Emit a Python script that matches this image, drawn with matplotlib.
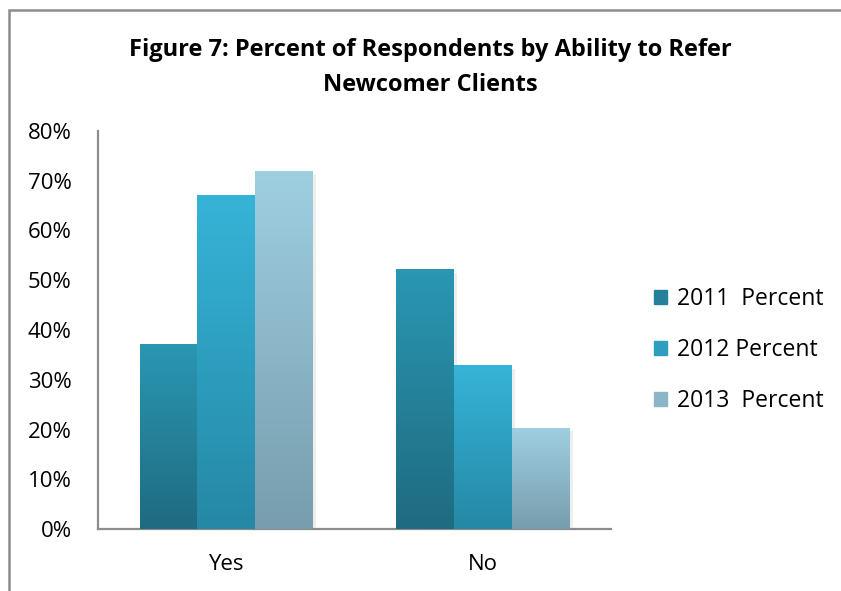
import numpy as np
import matplotlib
matplotlib.use('Agg')
from matplotlib import pyplot as plt
from matplotlib.colors import LinearSegmentedColormap
from matplotlib.patches import Rectangle
import matplotlib.patheffects as pe

categories = ['Yes', 'No']
series_names = ['2011  Percent', '2012 Percent', '2013  Percent']
pct_2011 = [37.0, 52.1]
pct_2012 = [67.1, 32.8]
pct_2013 = [71.8, 20.3]
y_ticks = [0, 10, 20, 30, 40, 50, 60, 70, 80]

# (bottom, top) colours for each series gradient
shades = [('#1f6b80', '#2a97b3'),
          ('#2588a5', '#36b4d8'),
          ('#779dae', '#9ecfe1')]

plt.rcParams['font.family'] = ['Open Sans', 'DejaVu Sans']
plt.rcParams['font.size'] = 16

fig = plt.figure(figsize=(8.41, 5.91), dpi=100)
ax = fig.add_axes([98/841, 62/591, (611-98)/841, (460-62)/591])

# outer chart border
fig.patches.append(Rectangle((8.5/841, -0.05), 1.0, (591-9.5)/591 + 0.05,
                             transform=fig.transFigure, fill=False,
                             edgecolor='#8c8c8c', linewidth=1.8))

x = np.arange(len(categories))
width = 0.225
grad = np.linspace(0, 1, 256).reshape(-1, 1)
for i, vals in enumerate([pct_2011, pct_2012, pct_2013]):
    cmap = LinearSegmentedColormap.from_list('s%d' % i, shades[i])
    offs = (i - 1) * width
    bars = ax.bar(x + offs, vals, width, color=shades[i][0], zorder=2,
                  path_effects=[pe.SimplePatchShadow(offset=(2.5, -2), alpha=0.12,
                                                     shadow_rgbFace='#777777'),
                                pe.Normal()])
    for b in bars:
        x0 = b.get_x()
        ax.imshow(grad, cmap=cmap, origin='lower', aspect='auto', zorder=3,
                  extent=[x0, x0 + b.get_width(), 0, b.get_height()])

ax.set_xlim(-0.5, 1.5)
ax.set_ylim(0, 80)
ax.set_xticks(x)
ax.set_xticklabels(categories, fontsize=16)
ax.set_yticks(y_ticks)
ax.set_yticklabels(['%d%%' % v for v in y_ticks], fontsize=16)
ax.tick_params(length=0)
ax.tick_params(axis='y', pad=19)
ax.tick_params(axis='x', pad=18)
for s in ['top', 'right']:
    ax.spines[s].set_visible(False)
for s in ['left', 'bottom']:
    ax.spines[s].set_color('#8c8c8c')
    ax.spines[s].set_linewidth(1.6)

fig.text(430/841, 1 - 67.5/591, 'Figure 7: Percent of Respondents by Ability to Refer\nNewcomer Clients',
         ha='center', va='center', fontsize=17, fontweight='bold', linespacing=1.65)

# legend swatches use the mid-tone of each gradient
handles = [Rectangle((0, 0), 1, 1, color=LinearSegmentedColormap.from_list('h', shades[i])(0.5))
           for i in range(3)]
fig.legend(handles, series_names, loc='center left',
           bbox_to_anchor=(633/841, 1 - 350/591), frameon=False,
           fontsize=16.5, handlelength=0.6, handleheight=0.6,
           handletextpad=0.4, labelspacing=1.18)

fig.savefig('out.png', dpi=100)
plt.close()
